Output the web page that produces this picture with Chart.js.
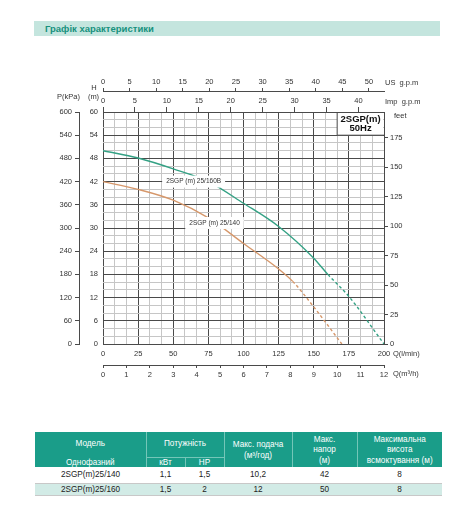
<!DOCTYPE html>
<html lang="uk">
<head>
<meta charset="utf-8">
<title>Графік характеристики 2SGP(m)</title>
<script src="https://cdn.jsdelivr.net/npm/chart.js@4.4.1/dist/chart.umd.min.js"></script>
<style>
  html, body { margin: 0; padding: 0; background: #fff; }
  body { position: relative; width: 469px; height: 512px; overflow: hidden; font-family: "Liberation Sans", Arial, sans-serif; }
  #band { position: absolute; left: 34px; top: 21px; width: 406px; height: 15px; background: #c4e5de; }
  #band h1 { margin: 0; padding-left: 11px; font-size: 9.5px; line-height: 15px; color: #16917d; font-weight: bold; }
  #chartBox { position: absolute; left: 0; top: 60px; width: 469px; height: 330px; }
  #specs { position: absolute; left: 35px; top: 432px; width: 407px; border-collapse: collapse; table-layout: fixed; text-align: center; }
  #specs th { background: #1a9d89; color: #fff; font-weight: normal; font-size: 8.2px; padding: 0; line-height: 10.5px; border-left: 1px solid #74c6b8; overflow: hidden; white-space: nowrap; }
  #specs th.first { border-left: none; }
  #specs th.pw { border-bottom: 1px solid #74c6b8; }
  #specs th.tall { padding-top: 2px; }
  #specs th.sub { line-height: 9px; }
  #specs td { padding: 0; color: #222; font-size: 8.2px; line-height: 10px; }
  #specs tr.r0 td { background: #fff; height: 16px; }
  #specs tr.r1 td { background: #d2ebe6; height: 11px; border-top: 1px solid #c8c8c8; border-bottom: 1px solid #c8c8c8; }
</style>
</head>
<body>
<div id="band"><h1>Графік характеристики</h1></div>
<div id="chartBox"><canvas id="pumpChart" width="469" height="330"></canvas></div>
<table id="specs">
  <colgroup>
    <col style="width:111px"><col style="width:39px"><col style="width:39px">
    <col style="width:68px"><col style="width:65px"><col style="width:85px">
  </colgroup>
  <thead>
    <tr style="height:25px">
      <th class="first">Модель</th>
      <th colspan="2" class="pw">Потужність</th>
      <th rowspan="2" class="tall">Макс. подача<br>(м³/год)</th>
      <th rowspan="2" class="tall">Макс.<br>напор<br>(м)</th>
      <th rowspan="2" class="tall">Максимальна<br>висота<br>всмоктування (м)</th>
    </tr>
    <tr style="height:10px">
      <th class="first sub">Однофазний</th><th class="sub">кВт</th><th class="sub">HP</th>
    </tr>
  </thead>
  <tbody id="rows"></tbody>
</table>
<script>
// pump curves, Q in l/min, H in m
const q160 = [0, 25, 50, 75, 100, 125, 150, 160, 175, 200];
const h160 = [50, 48.1, 45.3, 42, 36.4, 30.4, 22.2, 18, 12.3, 0];
const q140 = [0, 25, 50, 75, 100, 125, 135, 150, 170];
const h140 = [42, 40, 37.2, 32.6, 26, 19.4, 16.2, 9.6, 0];
// from here on the curves are drawn dashed
const dash160 = 160;
const dash140 = 135;

// tick labels
const qLabels = [0, 25, 50, 75, 100, 125, 150, 175, 200];
const hLabels = [0, 6, 12, 18, 24, 30, 36, 42, 48, 54, 60];
const kpaLabels = [0, 60, 120, 180, 240, 300, 360, 420, 480, 540, 600];
const usLabels = [0, 5, 10, 15, 20, 25, 30, 35, 40, 45, 50];
const impLabels = [0, 5, 10, 15, 20, 25, 30, 35, 40];
const m3Labels = [0, 1, 2, 3, 4, 5, 6, 7, 8, 9, 10, 11, 12];
const feetLabels = [0, 25, 50, 75, 100, 125, 150, 175];

// table
const models = ["2SGP(m)25/140", "2SGP(m)25/160"];
const powerKw = ["1,1", "1,5"];
const powerHp = ["1,5", "2"];
const maxFlow = ["10,2", "12"];
const maxHead = ["42", "50"];
const maxSuction = ["8", "8"];

const Q_MAX = 200, H_MAX = 60;
const LPM_PER_USGPM = 3.785411784;
const LPM_PER_IMPGPM = 4.54609;
const M_PER_FT = 0.3048;

const GREEN = "#33a184";
const ORANGE = "#d6976a";
const DARK = "#4a4a4a";
const LIGHT = "#c6c6c6";

function fillTable() {
  const body = document.getElementById("rows");
  models.forEach((m, i) => {
    const tr = document.createElement("tr");
    tr.className = "r" + i;
    [m, powerKw[i], powerHp[i], maxFlow[i], maxHead[i], maxSuction[i]].forEach((v) => {
      const td = document.createElement("td");
      td.textContent = v;
      tr.appendChild(td);
    });
    body.appendChild(tr);
  });
}

function toPoints(xs, ys) {
  return xs.map((x, i) => ({ x: x, y: ys[i] }));
}

function fixSize(w, h) {
  return (scale) => {
    if (w) scale.width = w;
    if (h) scale.height = h;
  };
}

function setTicks(values) {
  return (scale) => {
    scale.ticks = values.map((v) => ({ value: v }));
  };
}

// grid every 25/3 l/min and every 2 m, dark every third line
function gridSteps(max, step) {
  const out = [];
  for (let k = 0; k * step <= max + 1e-9; k++) out.push(k * step);
  return out;
}

const extraAxis = {
  grid: { drawOnChartArea: false, drawTicks: true, color: DARK, lineWidth: 1 },
  border: { display: true, color: DARK },
  ticks: { autoSkip: false, maxRotation: 0, color: "#333" },
};

function axis(opts) {
  return Chart.helpers.merge({}, [extraAxis, opts]);
}

const overlay = {
  id: "overlay",
  afterDatasetsDraw(chart) {
    const { ctx, chartArea: a, scales: { x, y } } = chart;
    ctx.save();

    // curve labels on white patches
    ctx.font = "6.5px 'Liberation Sans', Arial";
    ctx.textAlign = "center";
    ctx.textBaseline = "middle";
    [["2SGP (m) 25/160B", 64.5, 42], ["2SGP (m) 25/140", 79.4, 31.3]].forEach(([t, q, h]) => {
      const px = x.getPixelForValue(q), py = y.getPixelForValue(h);
      const w = ctx.measureText(t).width;
      ctx.fillStyle = "#fff";
      ctx.fillRect(px - w / 2 - 4, py - 6, w + 8, 12);
      ctx.fillStyle = "#333";
      ctx.fillText(t, px, py);
    });

    // model box in the top right corner
    const bl = x.getPixelForValue(500 / 3), bb = y.getPixelForValue(54);
    ctx.fillStyle = "#fff";
    ctx.fillRect(bl, a.top + 1, a.right - bl - 1, bb - a.top - 1);
    ctx.strokeStyle = DARK;
    ctx.lineWidth = 1;
    ctx.beginPath();
    ctx.moveTo(bl, a.top);
    ctx.lineTo(bl, bb);
    ctx.lineTo(a.right, bb);
    ctx.stroke();
    ctx.fillStyle = "#111";
    ctx.font = "bold 9.5px 'Liberation Sans', Arial";
    ctx.fillText("2SGP(m)", (bl + a.right) / 2, a.top + 7.5);
    ctx.fillText("50Hz", (bl + a.right) / 2, a.top + 16.5);
    ctx.restore();
  },
  afterDraw(chart) {
    const { ctx, chartArea: a } = chart;
    ctx.save();
    ctx.fillStyle = "#333";
    ctx.font = "7.5px 'Liberation Sans', Arial";
    ctx.textBaseline = "middle";
    ctx.textAlign = "left";
    ctx.fillText("US  g.p.m", a.right + 1, a.top - 29);
    ctx.fillText("Imp  g.p.m", a.right + 1, a.top - 10.5);
    ctx.fillText("feet", a.right + 10, a.top + 4);
    ctx.fillText("Q(l/min)", a.right + 9, a.bottom + 10);
    ctx.fillText("Q(m³/h)", a.right + 9, a.bottom + 30);
    ctx.textAlign = "right";
    ctx.fillText("P(kPa)", a.left - 23, a.top - 15);
    ctx.textAlign = "center";
    ctx.fillText("H", a.left - 9, a.top - 24);
    ctx.fillText("(m)", a.left - 9.5, a.top - 15);
    ctx.restore();
  },
};

function renderChart(ctx) {
  const qGrid = gridSteps(Q_MAX, 25 / 3);
  const hGrid = gridSteps(H_MAX, 2);
  const darkLine = (c) => (c.index % 3 === 0 ? DARK : LIGHT);

  new Chart(ctx, {
    type: "line",
    data: {
      datasets: [
        {
          label: "2SGP(m)25/160",
          data: toPoints(q160, h160),
          borderColor: GREEN,
          borderWidth: 1.4,
          pointRadius: 0,
          cubicInterpolationMode: "monotone",
          segment: { borderDash: (c) => (c.p0.parsed.x >= dash160 ? [3, 2.5] : undefined) },
        },
        {
          label: "2SGP(m)25/140",
          data: toPoints(q140, h140),
          borderColor: ORANGE,
          borderWidth: 1.4,
          pointRadius: 0,
          cubicInterpolationMode: "monotone",
          segment: { borderDash: (c) => (c.p0.parsed.x >= dash140 ? [3, 2.5] : undefined) },
        },
      ],
    },
    options: {
      responsive: false,
      animation: false,
      layout: { padding: { left: 49, right: 60, top: 10, bottom: 7 } },
      plugins: { legend: { display: false }, tooltip: { enabled: false } },
      scales: {
        x: {
          type: "linear", position: "bottom", weight: 0, min: 0, max: Q_MAX,
          afterBuildTicks: setTicks(qGrid),
          afterFit: fixSize(null, 21),
          grid: { color: darkLine, lineWidth: 1, drawTicks: false },
          border: { display: false },
          ticks: {
            autoSkip: false, maxRotation: 0, padding: 5, color: "#333",
            callback: (v) => (qLabels.includes(Math.round(v)) && Math.abs(v - Math.round(v)) < 1e-6 ? Math.round(v) : ""),
          },
        },
        xM3: axis({
          type: "linear", position: "bottom", weight: 1, min: 0, max: Q_MAX * 60 / 1000,
          afterBuildTicks: setTicks(m3Labels),
          afterFit: fixSize(null, 18),
          grid: { tickLength: 3 },
          ticks: { padding: 2 },
        }),
        xImp: axis({
          type: "linear", position: "top", weight: 0, min: 0, max: Q_MAX / LPM_PER_IMPGPM,
          afterBuildTicks: setTicks(impLabels),
          afterFit: fixSize(null, 21),
          grid: { tickLength: 5 },
          border: { display: false },
          ticks: { padding: 2 },
        }),
        xUs: axis({
          type: "linear", position: "top", weight: 1, min: 0, max: Q_MAX / LPM_PER_USGPM,
          afterBuildTicks: setTicks(usLabels),
          afterFit: fixSize(null, 21),
          grid: { tickLength: 3 },
          ticks: { padding: 2 },
        }),
        y: {
          type: "linear", position: "left", weight: 0, min: 0, max: H_MAX,
          afterBuildTicks: setTicks(hGrid),
          afterFit: fixSize(24, null),
          grid: { color: darkLine, lineWidth: 1, drawTicks: false },
          border: { display: false },
          ticks: {
            padding: 5, color: "#333", autoSkip: false,
            callback: (v) => (hLabels.includes(v) ? v : ""),
          },
        },
        yKpa: axis({
          type: "linear", position: "left", weight: 1, min: 0, max: H_MAX * 10,
          afterBuildTicks: setTicks(kpaLabels),
          afterFit: fixSize(30, null),
          grid: { tickLength: 4 },
          ticks: { padding: 3 },
        }),
        yFt: axis({
          type: "linear", position: "right", weight: 0, min: 0, max: H_MAX / M_PER_FT,
          afterBuildTicks: setTicks(feetLabels),
          afterFit: fixSize(25, null),
          grid: { tickLength: 4 },
          border: { display: false },
          ticks: { padding: 2 },
        }),
      },
    },
    plugins: [overlay],
  });
}

function setup() {
  Chart.defaults.font.family = "'Liberation Sans', Arial, sans-serif";
  Chart.defaults.font.size = 7.5;
  Chart.defaults.color = "#333";
  fillTable();
  renderChart(document.getElementById("pumpChart").getContext("2d"));
}

window.addEventListener("load", setup);
</script>
</body>
</html>
